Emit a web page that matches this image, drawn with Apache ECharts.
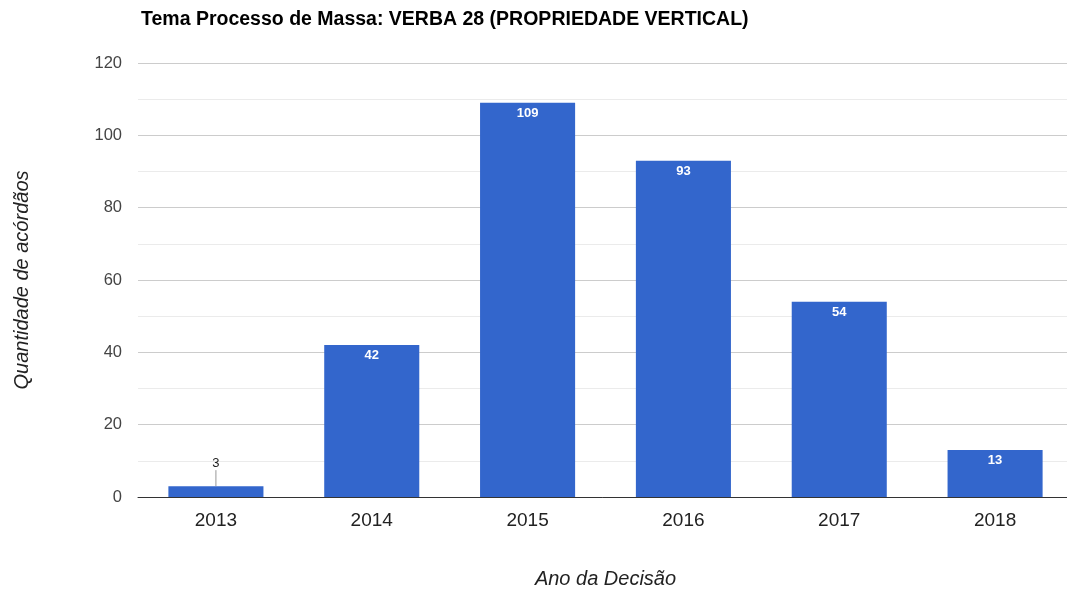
<!DOCTYPE html>
<html>
<head>
<meta charset="utf-8">
<script src="https://cdn.jsdelivr.net/npm/echarts@6/dist/echarts.min.js"></script>
<style>
  html, body { margin: 0; padding: 0; background: #fff; }
  #main { width: 1067px; height: 592px; }
</style>
</head>
<body>
<div id="main"></div>
<script>
var years = ['2013', '2014', '2015', '2016', '2017', '2018'];
var counts = [3, 42, 109, 93, 54, 13];
var titleText = 'Tema Processo de Massa: VERBA 28 (PROPRIEDADE VERTICAL)';

var myChart = echarts.init(document.getElementById('main'));
var option = {
    animation: false,
    textStyle: { fontFamily: 'Liberation Sans, Arial, sans-serif' },
    title: {
        text: titleText,
        left: 136,
        top: 5,
        textStyle: { fontSize: 19.5, fontWeight: 'bold', color: '#000' }
    },
    grid: { left: 138, width: 935, top: 63, height: 434, outerBoundsMode: 'none', containLabel: false },
    xAxis: {
        type: 'category',
        data: years,
        name: 'Ano da Decisão',
        nameLocation: 'middle',
        nameGap: 72,
        nameTextStyle: { fontStyle: 'italic', fontSize: 20, color: '#222' },
        axisLine: { lineStyle: { color: '#333', width: 1 } },
        axisTick: { show: false },
        axisLabel: { fontSize: 19, color: '#222', margin: 14 }
    },
    yAxis: {
        type: 'value',
        min: 0,
        max: 120,
        interval: 20,
        name: 'Quantidade de acórdãos',
        nameLocation: 'middle',
        nameGap: 106,
        nameTextStyle: { fontStyle: 'italic', fontSize: 20, color: '#222' },
        axisLine: { show: false },
        axisTick: { show: false },
        axisLabel: { fontSize: 16.5, color: '#444', margin: 16 },
        splitLine: { lineStyle: { color: '#ccc' } },
        minorTick: { show: false, splitNumber: 2 },
        minorSplitLine: { show: true, lineStyle: { color: '#ebebeb' } }
    },
    series: [{
        type: 'bar',
        data: counts.map(function (v, i) {
            if (i === 0) {
                return {
                    value: v,
                    label: { position: 'top', color: '#222', fontWeight: 'normal', distance: 0 }
                };
            }
            return v;
        }),
        barWidth: '61%',
        itemStyle: { color: '#3366cc' },
        label: {
            show: true,
            position: 'insideTop',
            distance: 4,
            color: '#fff',
            fontSize: 13,
            fontWeight: 'bold'
        },
        labelLayout: function (params) {
            if (params.dataIndex === 0) {
                return { dy: -16 };
            }
        },
        labelLine: { show: true, lineStyle: { color: '#999', width: 1 } }
    }]
};
myChart.setOption(option);
</script>
</body>
</html>
